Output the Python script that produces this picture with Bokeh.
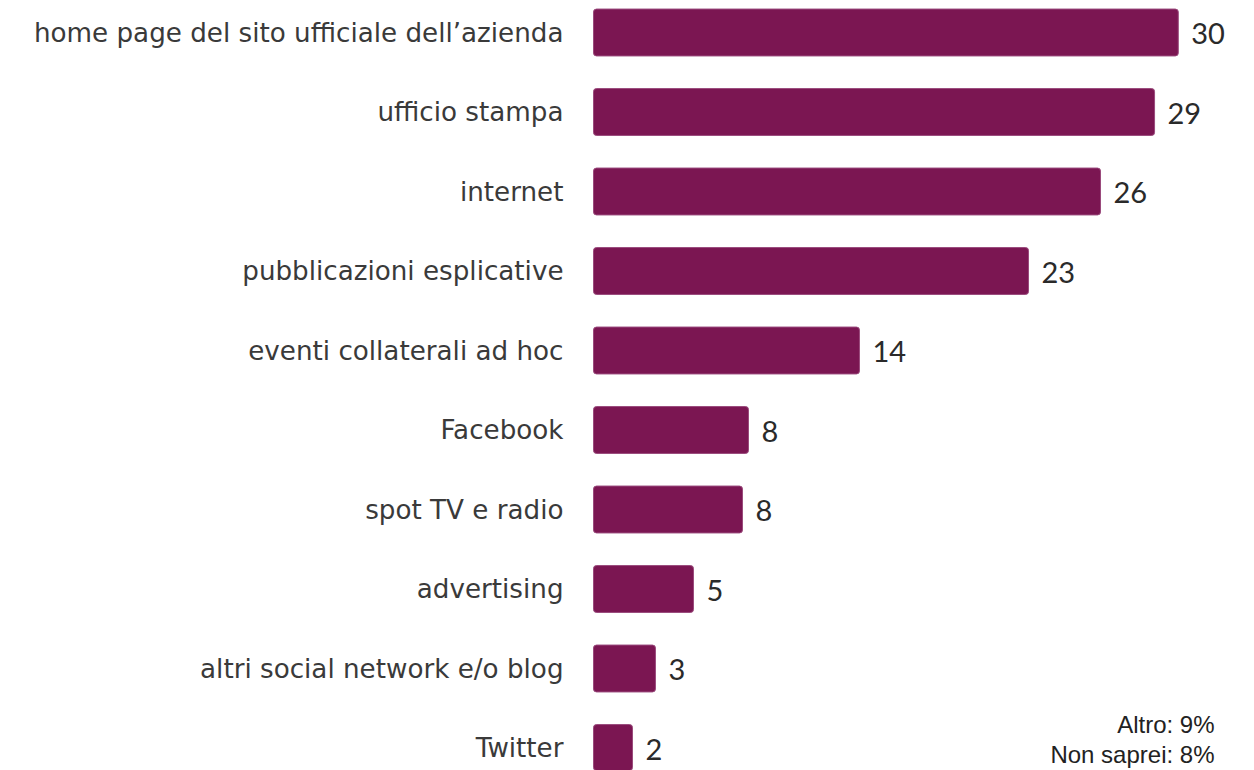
from bokeh.plotting import figure
from bokeh.models import Range1d, Label, ColumnDataSource
from bokeh.core.properties import value
from bokeh.embed import file_html
from bokeh.resources import INLINE

categories = [
    "home page del sito ufficiale dell\u2019azienda",
    "ufficio stampa",
    "internet",
    "pubblicazioni esplicative",
    "eventi collaterali ad hoc",
    "Facebook",
    "spot TV e radio",
    "advertising",
    "altri social network e/o blog",
    "Twitter",
]
values = [30.3, 29.07, 26.27, 22.54, 13.78, 8.03, 7.72, 5.18, 3.21, 2.02]
value_labels = ["30", "29", "26", "23", "14", "8", "8", "5", "3", "2"]
notes = ["Altro: 9%", "Non saprei: 8%"]

W, H = 1254, 770
zero_px = 593
px_per_unit = 19.3
row_px = 79.5
first_center = 32

ypos = list(range(len(categories)))
src = ColumnDataSource(dict(y=ypos, v=values, cat=categories, lab=value_labels))

p = figure(width=W, height=H, output_backend="svg", toolbar_location=None,
           x_range=Range1d(-zero_px / px_per_unit, (W - zero_px) / px_per_unit),
           y_range=Range1d((H - first_center) / row_px, -first_center / row_px),
           x_axis_location=None, y_axis_location=None, min_border=0)
p.outline_line_color = None
p.grid.visible = False
p.background_fill_color = "white"

p.hbar(y="y", left=0, right="v", height=0.59, source=src,
       fill_color="#7B1652", line_color="#9A4A7C", line_width=1, border_radius=3)

p.text(x=0, y="y", text="cat", source=src, x_offset=-30, y_offset=0,
       text_align="right", text_baseline="middle",
       text_font=value("DejaVu Sans"), text_font_size="26.2px", text_color="#3a3a3a")

p.text(x="v", y="y", text="lab", source=src, x_offset=13, y_offset=1,
       text_align="left", text_baseline="middle",
       text_font=value("Lato"), text_font_size="29px", text_font_style="normal",
       text_color="#2a2a2a")

for i, t in enumerate(notes):
    p.add_layout(Label(x=1214, y=16 + 30 * (1 - i), x_units="screen", y_units="screen",
                       text=t, text_align="right", text_baseline="alphabetic",
                       text_font="Liberation Sans", text_font_size="24px",
                       text_color="#222222"))

open("out.html", "w").write(file_html(p, INLINE))
